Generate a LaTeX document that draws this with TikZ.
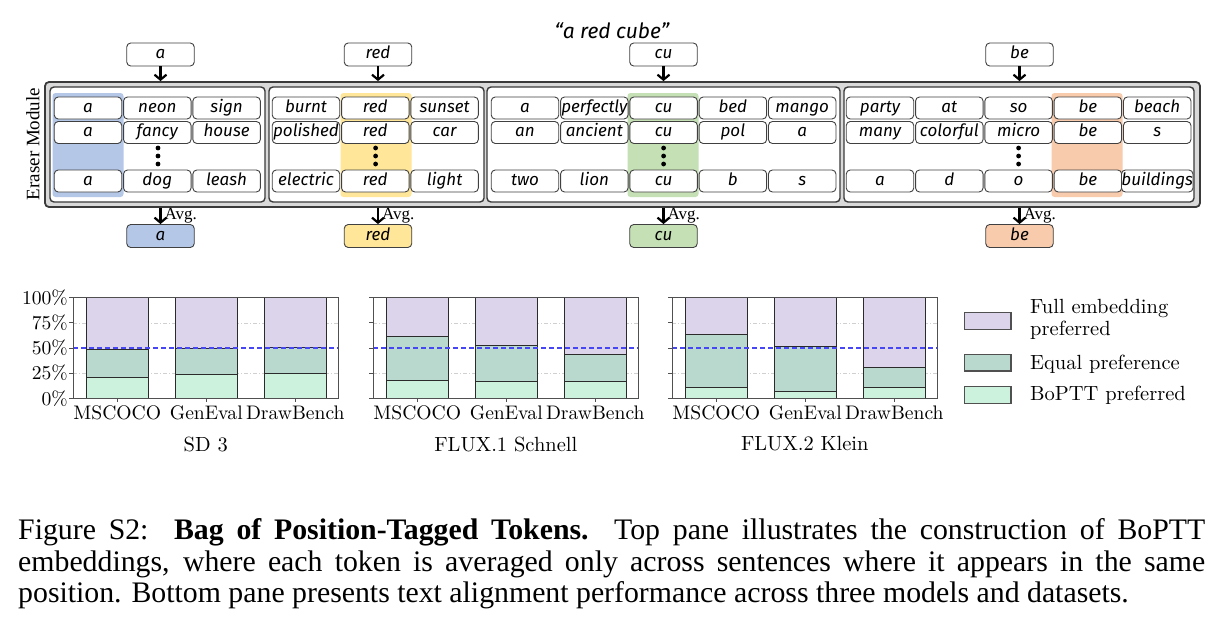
\documentclass[tikz,border=0pt]{standalone}
\usepackage{fontspec}
\usetikzlibrary{arrows.meta}
\newfontfamily\hand{Fira Sans}
\newfontfamily\tms{Liberation Serif}
\newfontfamily\cmr{lmroman10-regular}[Extension=.otf]
\definecolor{blueH}{HTML}{B4C7E7}
\definecolor{yellowH}{HTML}{FFE699}
\definecolor{greenH}{HTML}{C5E0B4}
\definecolor{orangeH}{HTML}{F8CBAD}
\definecolor{outerF}{HTML}{D9D9D9}
\definecolor{darkB}{HTML}{3A3A3A}
\definecolor{tokB}{HTML}{404040}
\definecolor{cF}{HTML}{DCD4EB}
\definecolor{cE}{HTML}{B9D9CF}
\definecolor{cB}{HTML}{CCF2DD}
\definecolor{edgeC}{HTML}{2B2B2B}
\definecolor{frameC}{HTML}{505050}
\definecolor{gridC}{HTML}{D0D0D0}
\definecolor{halfC}{RGB}{70,70,245}

\tikzset{
  tok/.style={draw=tokB, line width=0.9pt, rounded corners=4pt, fill=white,
    minimum width=67.5pt, minimum height=22pt, inner sep=0pt,
    text height=11.5pt, text depth=3.5pt,
    font=\hand\itshape\fontsize{17}{17}\selectfont},
  lab/.style={tok, minimum height=23pt},
  outerbox/.style={draw=darkB, line width=1.8pt, rounded corners=4pt, fill=outerF, inner sep=0pt},
  innerbox/.style={draw=darkB, line width=1.4pt, rounded corners=4pt, fill=white, inner sep=0pt},
  arr/.style={line width=2.4pt, -{Straight Barb[length=5pt,width=12pt,line width=2.2pt]}},
  avg/.style={font=\tms\fontsize{17}{17}\selectfont, inner sep=0pt, anchor=west},
  lmfont/.style={font=\cmr\fontsize{20.5}{22}\selectfont},
  lmsmall/.style={font=\cmr\fontsize{19.6}{21}\selectfont},
  xlab/.style={lmsmall, inner sep=0pt},
  ylab/.style={lmsmall, inner sep=0pt, anchor=east},
  gridl/.style={gridC, line width=0.6pt, dash pattern=on 4pt off 2pt on 1pt off 2pt},
  baredge/.style={edgeC, line width=0.9pt},
  halfl/.style={halfC, line width=1.3pt, dash pattern=on 5pt off 3pt},
  legpatch/.style={draw=frameC, line width=1.2pt, minimum width=46.7pt, minimum height=16.6pt, inner sep=0pt},
  legtext/.style={lmfont, inner sep=0pt, anchor=west},
  captext/.style={font=\tms\fontsize{29.8}{32}\selectfont, inner sep=0pt, anchor=base west}
}

\newcommand\tokrow[4]{%
  \foreach \w [count=\i from 0] in {#4} {
    \node[tok] (#1-\i) at ({#2+34+\i*69.3},#3) {\w};
  }}

\newcommand\stackchart[4]{%
  % #1 name, #2 left x, #3 title, #4 list of boptt/equal values
  \begin{scope}[shift={(#2,0)}]
    \draw[gridl] (0,{398.3-25*1.006}) -- (265,{398.3-25*1.006});
    \draw[gridl] (0,{398.3-75*1.006}) -- (265,{398.3-75*1.006});
    \foreach \b/\e/\n [count=\i from 0] in {#4} {
      \pgfmathsetmacro\xl{13+\i*89}
      \fill[cB] (\xl,398.3) rectangle ({\xl+62},{398.3-\b*1.006});
      \fill[cE] (\xl,{398.3-\b*1.006}) rectangle ({\xl+62},{398.3-\e*1.006});
      \fill[cF] (\xl,{398.3-\e*1.006}) rectangle ({\xl+62},297.7);
      \draw[baredge] (\xl,398.3) rectangle ({\xl+62},297.7);
      \draw[baredge] (\xl,{398.3-\b*1.006}) -- ({\xl+62},{398.3-\b*1.006});
      \draw[baredge] (\xl,{398.3-\e*1.006}) -- ({\xl+62},{398.3-\e*1.006});
      \draw[frameC, line width=0.8pt] ({\xl+31},398.3) -- ({\xl+31},402.3);
      \node[xlab] (#1-x\i) at ({\xl+31},413) {\n};
    }
    \draw[halfl] (0,{398.3-50*1.006}) -- (265,{398.3-50*1.006});
    \draw[frameC, line width=1pt] (0,297.7) rectangle (265,398.3);
    \foreach \t in {0,25,50,75,100} {
      \draw[frameC, line width=0.8pt] (0,{398.3-\t*1.006}) -- (-4,{398.3-\t*1.006});
    }
    \node[lmfont, inner sep=0pt] (#1-title) at (132.5,444) {#3};
  \end{scope}}

\begin{document}
\begin{tikzpicture}[x=1pt,y=-1pt]
\useasboundingbox[fill=white] (0,0) rectangle (1220,626);

% ---------- top pane ----------
\node[font=\hand\itshape\fontsize{21}{21}\selectfont, inner sep=0pt] (prompt) at (612,31) {“a red cube”};

\node[outerbox, minimum width=1155pt, minimum height=125pt] (outer) at (622.5,144.5) {};
\node[innerbox, minimum width=215pt, minimum height=115pt] (in1) at (157.5,144.5) {};
\node[innerbox, minimum width=215pt, minimum height=115pt] (in2) at (376.5,144.5) {};
\node[innerbox, minimum width=353pt, minimum height=115pt] (in3) at (663.5,144.5) {};
\node[innerbox, minimum width=350pt, minimum height=115pt] (in4) at (1019,144.5) {};

\node[font=\tms\fontsize{19}{19}\selectfont, rotate=90, inner sep=0pt] (eraser) at (33,144) {Eraser Module};

% highlighted columns
\fill[blueH, rounded corners=3pt] (52.5,93) rectangle (123.5,197);
\fill[yellowH, rounded corners=3pt] (340.5,93) rectangle (411.5,197);
\fill[greenH, rounded corners=3pt] (627.5,93) rectangle (698.5,197);
\fill[orangeH, rounded corners=3pt] (1051.5,93) rectangle (1122.5,197);

% tokens
\tokrow{ba1}{54}{108}{a,neon,sign}
\tokrow{ba2}{54}{132.5}{a,fancy,house}
\tokrow{ba3}{54}{181}{a,dog,leash}
\tokrow{bb1}{272}{108}{burnt,red,sunset}
\tokrow{bb2}{272}{132.5}{polished,red,car}
\tokrow{bb3}{272}{181}{electric,red,light}
\tokrow{bc1}{491}{108}{a,perfectly,cu,bed,mango}
\tokrow{bc2}{491}{132.5}{an,ancient,cu,pol,a}
\tokrow{bc3}{491}{181}{two,lion,cu,b,s}
\tokrow{bd1}{846}{108}{party,at,so,be,beach}
\tokrow{bd2}{846}{132.5}{many,colorful,micro,be,s}
\tokrow{bd3}{846}{181}{a,d,o,be,buildings}

% vertical dots
\foreach \x in {158,375.6,663.6,1018.6} {
  \foreach \yy in {148,156,164} { \fill (\x,\yy) circle (2.4pt); }
}

% input tokens and averaged outputs
\node[lab] (ta) at (160.5,54.5) {a};
\node[lab] (tr) at (378,54.5) {red};
\node[lab] (tc) at (663.5,54.5) {cu};
\node[lab] (tb) at (1019.5,54.5) {be};
\node[lab, fill=blueH] (oa) at (160.5,236) {a};
\node[lab, fill=yellowH] (or) at (378,236) {red};
\node[lab, fill=greenH] (oc) at (663.5,236) {cu};
\node[lab, fill=orangeH] (ob) at (1019.5,236) {be};

\foreach \s in {a,r,c,b} {
  \draw[arr] (t\s.south) -- (t\s.south |- outer.north);
  \draw[arr] (o\s.north |- outer.south) -- (o\s.north) node[avg, pos=0.5, xshift=3pt] (avg\s) {Avg.};
}

% ---------- bottom pane ----------
\stackchart{sd}{73.3}{SD 3}{20.9/48.7/MSCOCO, 23.9/50.0/GenEval, 24.9/50.7/DrawBench}
\stackchart{fa}{373.3}{FLUX.1 Schnell}{17.5/61.6/MSCOCO, 16.5/52.3/GenEval, 16.5/43.3/DrawBench}
\stackchart{fb}{672.3}{FLUX.2 Klein}{10.5/63.0/MSCOCO, 7.3/52.0/GenEval, 11.2/31.1/DrawBench}

\foreach \t/\l in {0/0\%,25/25\%,50/50\%,75/75\%,100/100\%} {
  \node[ylab] (yl\t) at (68,{398.3-\t*1.006}) {\l};
}

% legend
\node[legpatch, fill=cF] (lg1) at (987.7,321) {};
\node[legpatch, fill=cE] (lg2) at (987.7,362.7) {};
\node[legpatch, fill=cB] (lg3) at (987.7,395) {};
\node[legtext] (lt1a) at (1030,308.3) {Full embedding};
\node[legtext] (lt1b) at (1030,330.5) {preferred};
\node[legtext] (lt2) at (1030,364.5) {Equal preference};
\node[legtext] (lt3) at (1030,395.5) {BoPTT preferred};

% ---------- caption ----------
\node[captext] (cap1) at (18,539) {\makebox[1187pt][s]{Figure S2:\ \ \textbf{Bag of Position-Tagged Tokens.}\ \ Top pane illustrates the construction of BoPTT}};
\node[captext] (cap2) at (18,571) {\makebox[1187pt][s]{embeddings, where each token is averaged only across sentences where it appears in the same}};
\node[captext] (cap3) at (18,602.5) {position. Bottom pane presents text alignment performance across three models and datasets.};
\end{tikzpicture}
\end{document}
